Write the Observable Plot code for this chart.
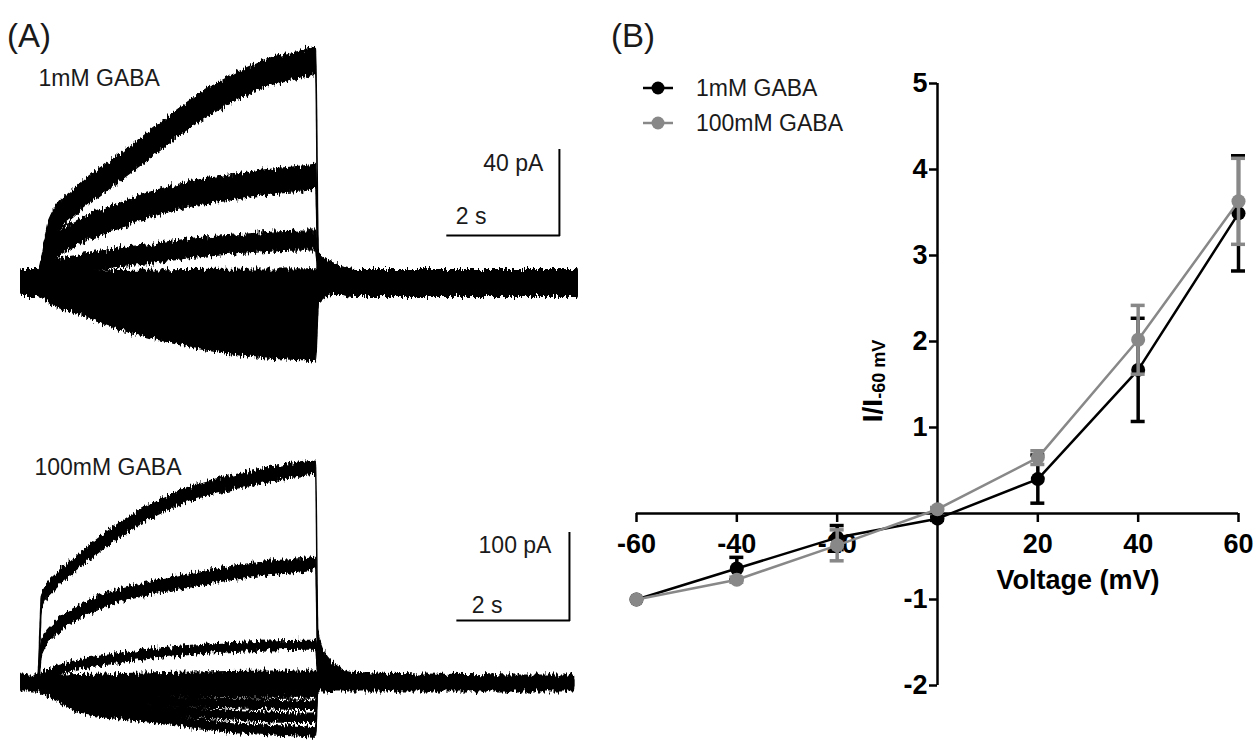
<!DOCTYPE html>
<html><head><meta charset="utf-8">
<script src="https://cdn.jsdelivr.net/npm/d3@7"></script>
<script src="https://cdn.jsdelivr.net/npm/@observablehq/plot@0.6"></script>
<style>
html,body{margin:0;padding:0;background:#fff;}
#fig{position:relative;width:1259px;height:741px;overflow:hidden;background:#fff;}
#fig svg{position:absolute;overflow:visible;max-width:none;}
</style></head><body><div id="fig"></div>
<script>
const FONT = '"Liberation Sans", Arial, Helvetica, sans-serif';

// ---------- Panel A, top: 1mM GABA traces (pA vs s) ----------
const time1mM = [-0.3, 0, 0.2, 0.7, 1.4, 2.1, 2.75, 3.45, 4.1, 4.8, 4.98, 5.03, 5.3, 5.7, 9.66];
const i1mM_1 = [0, 0, 23.5, 39, 53, 67, 80, 91, 99, 103.5, 105, 8, 3, 0, 0];
const i1mM_2 = [0, 0, 14, 23.5, 31, 37.6, 42, 45, 47.5, 49.4, 50, 5, 2, 0, 0];
const i1mM_3 = [0, 0, 6, 8.5, 11.8, 14, 16.5, 18, 19.3, 20, 20, 3, 1, 0, 0];
const i1mM_4 = [0, 0, 1, 1.5, 2, 2.2, 2.5, 2.6, 2.7, 2.8, 2.8, 1, 0, 0, 0];
const i1mM_5 = [0, 0, 0, 0, 0, 0, 0, 0, 0, 0, 0, 0, 0, 0, 0];
const i1mM_6 = [0, 0, -1, -2, -3, -4, -4.5, -5, -5.3, -5.5, -5.6, -1, 0, 0, 0];
const i1mM_7 = [0, 0, -2, -5, -8, -11, -13, -14, -14.5, -15, -15, -2, 0, 0, 0];
const i1mM_8 = [0, 0, -3, -7, -12, -16, -19, -21, -22.5, -23.3, -23.5, -3, 0, 0, 0];
const i1mM_9 = [0, 0, -4, -9, -16, -21, -25, -28, -30, -31, -31.5, -4, 0, 0, 0];
const noise1mM = [6.3, 5.8, 4.4, 3.8, 5.2, 5.2, 5.2, 5.2, 5.2];
const bar1mM = {t: 9.34, i: 22.6, dt: 2, dI: 40};

// ---------- Panel A, bottom: 100mM GABA traces ----------
const time100mM = [-0.3, 0, 0.07, 0.34, 0.7, 1.38, 2.06, 2.74, 3.44, 4.12, 4.8, 4.98, 5.02, 5.15, 5.35, 5.6, 9.6];
const i100mM_1 = [0, 0, 95, 118, 138, 172, 199, 218, 230, 239, 247, 248, 50, 25, 12, 4, 0];
const i100mM_2 = [0, 0, 41, 64, 80, 99, 110, 118, 126, 132, 136, 138, 30, 15, 7, 2, 0];
const i100mM_3 = [0, 0, 7, 14, 21, 28, 34, 38, 41, 43, 44, 44, 15, 8, 4, 1, 0];
const i100mM_4 = [0, 0, 1, 3, 5, 6, 7, 8, 8.5, 9, 9, 9, 4, 2, 1, 0, 0];
const i100mM_5 = [0, 0, 0, 0, 0, 0, 0, 0, 0, 0, 0, 0, 0, 0, 0, 0, 0];
const i100mM_6 = [0, 0, -2, -4, -6, -8, -9, -10, -10.5, -11, -11, -11, 0, 0, 0, 0, 0];
const i100mM_7 = [0, 0, -3, -8, -14, -18, -20, -22, -23, -24, -25, -25, 0, 0, 0, 0, 0];
const i100mM_8 = [0, 0, -4, -12, -20, -27, -31, -34, -37, -39, -40, -40, 0, 0, 0, 0, 0];
const i100mM_9 = [0, 0, -5, -15, -28, -35, -40, -46, -51, -54, -56, -57, 0, 0, 0, 0, 0];
const noise100mM = [8, 7.5, 5, 4.4, 9, 5.3, 5.3, 5.3, 5.3];
const bar100mM = {t: 9.52, i: 72.4, dt: 2, dI: 100};

// ---------- Panel B: normalized I-V ----------
const voltage = [-60, -40, -20, 0, 20, 40, 60];
const mean1mM = [-1, -0.64, -0.28, -0.06, 0.40, 1.67, 3.49];
const sem1mM = [0, 0.13, 0.14, 0.02, 0.28, 0.60, 0.67];
const mean100mM = [-1, -0.77, -0.37, 0.05, 0.65, 2.02, 3.63];
const sem100mM = [0, 0.03, 0.18, 0.02, 0.08, 0.40, 0.50];
const xTicks = [-60, -40, -20, 20, 40, 60];
const yTicks = [-2, -1, 1, 2, 3, 4, 5];
const seriesNames = ["1mM GABA", "100mM GABA"];
const seriesColors = ["#000000", "#888888"];

const fig = document.getElementById("fig");

// purely visual edge roughening of the recorded-trace bands (render-time filter, no data change)
function addJagFilter(svg, id) {
  const defs = d3.select(svg).insert("defs", ":first-child");
  const f = defs.append("filter").attr("id", id)
    .attr("x", "-2%").attr("y", "-10%").attr("width", "104%").attr("height", "120%")
    .attr("color-interpolation-filters", "sRGB");
  f.append("feTurbulence").attr("type", "fractalNoise").attr("baseFrequency", "0.55 0.12")
    .attr("numOctaves", 2).attr("seed", 7).attr("result", "n");
  f.append("feColorMatrix").attr("in", "n").attr("type", "matrix")
    .attr("values", "0 0 0 0 0.5  0 1 0 0 0  0 0 0 0 0  0 0 0 0 1").attr("result", "ny");
  f.append("feDisplacementMap").attr("in", "SourceGraphic").attr("in2", "ny")
    .attr("scale", 11).attr("xChannelSelector", "R").attr("yChannelSelector", "G");
  d3.select(svg).select('g[aria-label="area"]').attr("filter", `url(#${id})`);
}

function tracePanel({times, traces, noise, yDomain, mT, mB, height, label, labelDx, labelDy, bar, barTxt}) {
  const rows = [];
  traces.forEach((vals, k) => vals.forEach((v, i) => rows.push({k, t: times[i], lo: v - noise[k], hi: v + noise[k]})));
  return Plot.plot({
    width: 600, height, marginLeft: 21, marginRight: 21, marginTop: mT, marginBottom: mB,
    x: {domain: [-0.3, 9.7], axis: null},
    y: {domain: yDomain, axis: null},
    style: {background: "transparent", overflow: "visible", fontFamily: FONT},
    marks: [
      Plot.areaY(rows, {x: "t", y1: "lo", y2: "hi", z: "k", fill: "#000", stroke: "#000", strokeWidth: 1.4, curve: "monotone-x"}),
      Plot.ruleX([bar], {x: d => d.t, y1: d => d.i, y2: d => d.i + d.dI, stroke: "#000", strokeWidth: 2, strokeLinecap: "square"}),
      Plot.ruleY([bar], {y: d => d.i, x1: d => d.t - d.dt, x2: d => d.t, stroke: "#000", strokeWidth: 2, strokeLinecap: "square"}),
      Plot.text([bar], {x: d => d.t, y: d => d.i + d.dI, text: d => `${d.dI} pA`, textAnchor: "end", lineAnchor: "middle",
        dx: barTxt.pdx, dy: barTxt.pdy, fontSize: 23, fill: "#1a1a1a"}),
      Plot.text([bar], {x: d => d.t - d.dt, y: d => d.i, text: d => `${d.dt} s`, textAnchor: "start", lineAnchor: "middle",
        dx: barTxt.sdx, dy: barTxt.sdy, fontSize: 23, fill: "#1a1a1a"}),
      Plot.text([label], {frameAnchor: "top-left", textAnchor: "start", lineAnchor: "middle", dx: labelDx, dy: labelDy, fontSize: 23, fill: "#1a1a1a"})
    ]
  });
}

const pTop = tracePanel({
  times: time1mM, traces: [i1mM_1, i1mM_2, i1mM_3, i1mM_4, i1mM_5, i1mM_6, i1mM_7, i1mM_8, i1mM_9], noise: noise1mM,
  yDomain: [-40, 120], mT: 28, mB: 2, height: 370, label: seriesNames[0], labelDx: 17, labelDy: 50,
  bar: bar1mM, barTxt: {pdx: -16, pdy: 13, sdx: 8, sdy: -19}
});
pTop.style.left = "0px"; pTop.style.top = "0px";
fig.appendChild(pTop);
addJagFilter(pTop, "jagTop");

const pBot = tracePanel({
  times: time100mM, traces: [i100mM_1, i100mM_2, i100mM_3, i100mM_4, i100mM_5, i100mM_6, i100mM_7, i100mM_8, i100mM_9], noise: noise100mM,
  yDomain: [-64.4, 340.2], mT: 7, mB: 2, height: 361, label: seriesNames[1], labelDx: 13, labelDy: 80,
  bar: bar100mM, barTxt: {pdx: -18, pdy: 12, sdx: 14, sdy: -15}
});
pBot.style.left = "0px"; pBot.style.top = "380px";
fig.appendChild(pBot);
addJagFilter(pBot, "jagBot");

// Panel B
const rows1 = voltage.map((v, i) => ({v, m: mean1mM[i], s: sem1mM[i]}));
const rows2 = voltage.map((v, i) => ({v, m: mean100mM[i], s: sem100mM[i]}));
function seriesMarks(rows, color) {
  const eb = rows.filter(d => d.s > 0);
  return [
    Plot.line(rows, {x: "v", y: "m", stroke: color, strokeWidth: 2.5}),
    Plot.ruleX(eb, {x: "v", y1: d => d.m - d.s, y2: d => d.m + d.s, stroke: color, strokeWidth: 3.5}),
    Plot.ruleY(eb, {y: d => d.m + d.s, x1: "v", x2: "v", insetLeft: -7, insetRight: -7, stroke: color, strokeWidth: 3.5}),
    Plot.ruleY(eb, {y: d => d.m - d.s, x1: "v", x2: "v", insetLeft: -7, insetRight: -7, stroke: color, strokeWidth: 3.5}),
    Plot.dot(rows, {x: "v", y: "m", r: 7, fill: color, stroke: "none"})
  ];
}
const pB = Plot.plot({
  width: 679, height: 741, marginLeft: 56, marginRight: 21, marginTop: 83, marginBottom: 56,
  x: {domain: [-60, 60], axis: null},
  y: {domain: [-2, 5], axis: null},
  style: {background: "transparent", overflow: "visible", fontFamily: FONT},
  marks: [
    Plot.ruleY([0], {x1: -60, x2: 60, stroke: "#000", strokeWidth: 2.5}),
    Plot.ruleX([0], {y1: -2, y2: 5, stroke: "#000", strokeWidth: 2.5}),
    Plot.ruleX(xTicks, {x: d => d, y1: 0, y2: 0, insetBottom: -9, stroke: "#000", strokeWidth: 2.5}),
    Plot.ruleY(yTicks, {y: d => d, x1: 0, x2: 0, insetLeft: -8, stroke: "#000", strokeWidth: 2.5}),
    Plot.text(xTicks, {x: d => d, y: 0, text: d => String(d), dy: 31, lineAnchor: "middle", fontSize: 27, fontWeight: "bold", fill: "#000"}),
    Plot.text(yTicks, {x: 0, y: d => d, text: d => String(d), dx: -10, textAnchor: "end", lineAnchor: "middle", fontSize: 27, fontWeight: "bold", fill: "#000"}),
    Plot.text(["Voltage (mV)"], {x: 30, y: 0, dx: -10, dy: 67, lineAnchor: "middle", fontSize: 27, fontWeight: "bold", fill: "#000"}),
    ...seriesMarks(rows1, seriesColors[0]),
    ...seriesMarks(rows2, seriesColors[1])
  ]
});
pB.style.left = "580px"; pB.style.top = "0px";
fig.appendChild(pB);

// y-axis label with subscript
{
  const xs = pB.scale("x"), ys = pB.scale("y");
  const ax = xs.apply(0) - 55, ay = (ys.apply(5) + ys.apply(-2)) / 2 - 3;
  const t = d3.select(pB).append("text")
    .attr("transform", `translate(${ax},${ay}) rotate(-90)`)
    .attr("text-anchor", "middle")
    .attr("font-family", FONT).attr("font-weight", "bold").attr("fill", "#000");
  t.append("tspan").attr("font-size", 28).text("I/I");
  t.append("tspan").attr("font-size", 18).attr("dy", 3).text("-60 mV");
}

// Overlay: panel letters and legend
const ov = d3.select(fig).append("svg").attr("width", 1259).attr("height", 741)
  .style("left", "0px").style("top", "0px").style("pointer-events", "none");
ov.append("text").attr("x", 7).attr("y", 47).attr("font-family", FONT).attr("font-size", 33).attr("fill", "#1a1a1a").text("(A)");
ov.append("text").attr("x", 611).attr("y", 47).attr("font-family", FONT).attr("font-size", 33).attr("fill", "#1a1a1a").text("(B)");
const leg = ov.append("g");
seriesNames.forEach((name, k) => {
  const y = 88 + k * 35;
  leg.append("line").attr("x1", 643).attr("x2", 673).attr("y1", y).attr("y2", y).attr("stroke", seriesColors[k]).attr("stroke-width", 2.5);
  leg.append("circle").attr("cx", 658).attr("cy", y).attr("r", 6.5).attr("fill", seriesColors[k]);
  leg.append("text").attr("x", 696).attr("y", y).attr("dy", "0.35em").attr("font-family", FONT).attr("font-size", 23).attr("fill", "#1a1a1a").text(name);
});
</script></body></html>
